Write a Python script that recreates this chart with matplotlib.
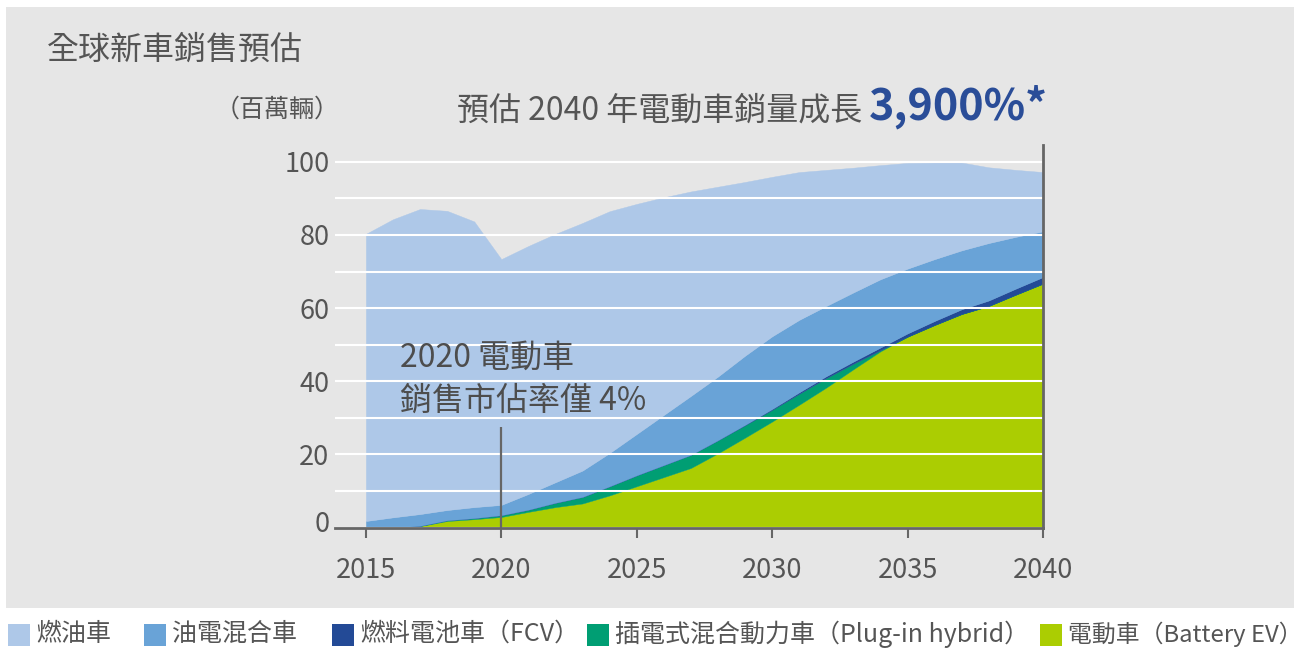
import matplotlib
matplotlib.use("Agg")
import matplotlib.pyplot as plt
from matplotlib.patches import Rectangle
from matplotlib.transforms import ScaledTranslation

plt.rcParams['font.family'] = ['Noto Sans CJK TC', 'DejaVu Sans']

# ---------------- data (millions of vehicles) ----------------
years = list(range(2015, 2041))
bev  = [0, 0, 0.4, 1.8, 2.3, 2.9, 4.3, 5.6, 6.6, 8.8, 11.3, 13.8, 16.3, 20.3,
        24.6, 29.0, 33.6, 38.3, 43.3, 48.2, 52.2, 55.4, 58.4, 60.6, 63.7, 66.7]
phev = [0, 0, 0.1, 0.2, 0.3, 0.5, 0.6, 1.2, 1.8, 2.5, 3.0, 3.3, 3.6, 3.6,
        3.4, 3.2, 3.0, 2.6, 1.5, 0.3, 0, 0, 0, 0, 0, 0]
fcv  = [0, 0, 0, 0, 0, 0, 0, 0, 0, 0, 0, 0, 0, 0,
        0.1, 0.25, 0.4, 0.5, 0.6, 0.75, 0.9, 1.1, 1.3, 1.5, 1.65, 1.8]
hev  = [1.8, 2.8, 3.2, 2.8, 3.0, 2.8, 4.3, 5.6, 7.2, 9.1, 11.3, 13.7, 16.1, 17.4,
        18.9, 19.85, 19.8, 19.2, 18.9, 18.65, 17.7, 16.9, 16.1, 15.7, 14.15, 12.5]
ice  = [78.5, 81.5, 83.4, 81.8, 78.1, 67.2, 67.8, 67.9, 67.7, 66.1, 62.9, 59.5, 55.9, 51.9,
        47.5, 43.6, 40.4, 37.2, 34.1, 31.2, 28.9, 26.4, 24.0, 20.7, 18.3, 16.2]

series_labels = ['燃油車', '油電混合車', '燃料電池車（FCV）',
                 '插電式混合動力車（Plug-in hybrid）', '電動車（Battery EV）']
xticks = [2015, 2020, 2025, 2030, 2035, 2040]
yticks = [0, 20, 40, 60, 80, 100]
ev_share_year = 2020
ev_note_top = 27.5

c_ice, c_hev, c_fcv, c_phev, c_bev = '#aec8e8', '#69a3d7', '#234a96', '#009e73', '#abcd02'
series_colors = [c_ice, c_hev, c_fcv, c_phev, c_bev]
gray_txt = '#555555'
axis_col = '#666666'

W, H = 1306, 648
fig = plt.figure(figsize=(W / 100, H / 100), dpi=100)
fig.patch.set_facecolor('white')

def P(x, y):
    return (x / W, 1 - y / H)

# gray panel
fig.patches.append(Rectangle(P(6, 608), (1294 - 6) / W, (608 - 7) / H,
                             transform=fig.transFigure, facecolor='#e6e6e6',
                             edgecolor='none', zorder=-10))

ax = fig.add_axes([335 / W, (H - 527.6) / H, (1043 - 335) / W, (527.6 - 145) / H])
ax.set_facecolor('none')

ax.stackplot(years, bev, phev, fcv, hev, ice,
             colors=[c_bev, c_phev, c_fcv, c_hev, c_ice],
             edgecolor='face', linewidth=0.3, zorder=1)

ax.set_xlim(2013.86, 2040)
ax.set_ylim(0, 104.6)

ax.set_yticks(yticks)
ax.set_yticks(range(10, 101, 20), minor=True)
ax.set_xticks(xticks)
ax.grid(axis='y', which='both', color='white', linewidth=1.5, zorder=2)
ax.set_axisbelow(False)

for s in ['top', 'left']:
    ax.spines[s].set_visible(False)
for s in ['bottom', 'right']:
    ax.spines[s].set_color(axis_col)
    ax.spines[s].set_linewidth(2)
    ax.spines[s].set_zorder(3)

ax.tick_params(axis='x', direction='out', length=7.5, width=1.5, color=axis_col,
               labelsize=19.5, labelcolor=gray_txt, pad=14)
ax.tick_params(axis='y', which='both', length=0, labelsize=19.5, labelcolor=gray_txt, pad=4)

# lift the "0" label a little as in the reference
lbl0 = ax.get_yticklabels()[0]
lbl0.set_transform(lbl0.get_transform() + ScaledTranslation(0, 6 / 100, fig.dpi_scale_trans))

# 2020 marker line
ax.plot([ev_share_year, ev_share_year], [0, ev_note_top], color=axis_col,
        linewidth=1.6, zorder=4, solid_capstyle='butt')

# texts
fig.text(*P(47, 50), '全球新車銷售預估', fontsize=23, color=gray_txt, va='center', ha='left')
fig.text(*P(340, 110), '（百萬輛）', fontsize=18, color=gray_txt, va='center', ha='right')
fig.text(*P(862, 120), '預估 2040 年電動車銷量成長', fontsize=23, color=gray_txt,
         va='baseline', ha='right')
fig.text(*P(869, 120), '3,900%*', fontsize=31, color='#2a4d98', fontweight='bold',
         va='baseline', ha='left')
fig.text(*P(400, 358), '2020 電動車', fontsize=23, color='#4d4d4d', va='center', ha='left')
fig.text(*P(400, 401), '銷售市佔率僅 4%', fontsize=23, color='#4d4d4d', va='center', ha='left')

# legend (manually laid out to match the reference spacing)
leg_x = [8, 144, 332, 587, 1040]
leg_fs = [18, 18, 18, 18, 17.2]
for lx, col, lab, fs in zip(leg_x, series_colors, series_labels, leg_fs):
    fig.patches.append(Rectangle(P(lx, 646), 22 / W, 22 / H, transform=fig.transFigure,
                                 facecolor=col, edgecolor='none'))
    fig.text(*P(lx + 28, 634), lab, fontsize=fs, color=gray_txt, va='center', ha='left')

fig.savefig('out.png', dpi=100)
